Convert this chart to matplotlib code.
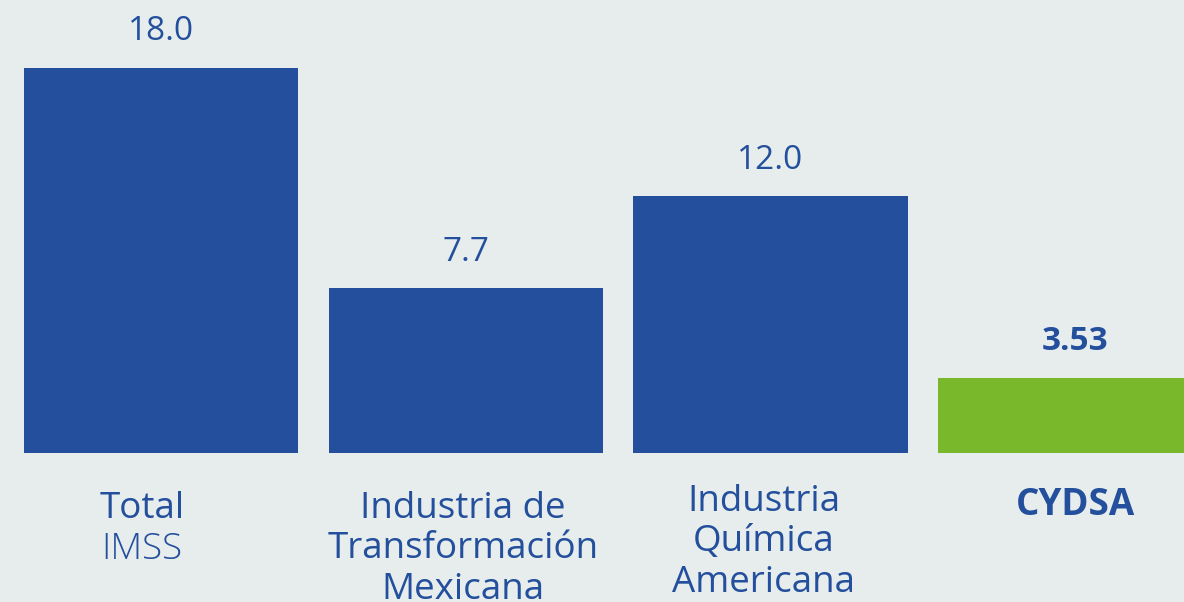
import matplotlib
matplotlib.use("Agg")
import matplotlib.pyplot as plt

categories = ["Total", "Industria de\nTransformación\nMexicana", "Industria\nQuímica\nAmericana", "CYDSA"]
subtitles = ["IMSS", "", "", ""]
values = [18.0, 7.7, 12.0, 3.53]
value_labels = ["18.0", "7.7", "12.0", "3.53"]

BLUE = "#234F9C"
GREEN = "#7AB82B"
BG = "#E7EDED"

bar_colors = [BLUE, BLUE, BLUE, GREEN]
bold_flags = [False, False, False, True]
label_dx = [-14, -2, -5, 0]  # horizontal nudges in points
label_dy = [-27, -27, -22, -24]

plt.rcParams["font.family"] = ["Open Sans", "DejaVu Sans"]

fig = plt.figure(figsize=(11.84, 6.02), dpi=100, facecolor=BG)
ax = fig.add_axes((0, 0.2475, 1, 0.7525))
ax.set_facecolor(BG)

x = list(range(len(values)))
bars = ax.bar(x, values, width=0.9, color=bar_colors)
ax.set_xlim(-0.529, 3.357)
ax.set_ylim(0, 21.18)
ax.axis("off")

for rect, label, bold in zip(bars, value_labels, bold_flags):
    ax.annotate(
        label,
        xy=(rect.get_x() + rect.get_width() / 2, rect.get_height()),
        xytext=(0, 20),
        textcoords="offset points",
        ha="center",
        va="baseline",
        fontsize=24,
        color=BLUE,
        fontweight="bold" if bold else "medium",
        annotation_clip=False,
    )

for xi, cat, sub, bold, dx, dy in zip(x, categories, subtitles, bold_flags, label_dx, label_dy):
    ax.annotate(
        cat,
        xy=(xi, 0),
        xycoords=ax.get_xaxis_transform(),
        xytext=(dx, dy),
        textcoords="offset points",
        ha="center",
        va="top",
        fontsize=26.5,
        color=BLUE,
        fontweight="bold" if bold else "normal",
        linespacing=1.17,
        annotation_clip=False,
    )
    if sub:
        ax.annotate(
            sub,
            xy=(xi, 0),
            xycoords=ax.get_xaxis_transform(),
            xytext=(dx, dy - 29),
            textcoords="offset points",
            ha="center",
            va="top",
            fontsize=26.5,
            color=BLUE,
            fontweight="light",
            annotation_clip=False,
        )

fig.savefig("out.png", dpi=100, facecolor=BG)
